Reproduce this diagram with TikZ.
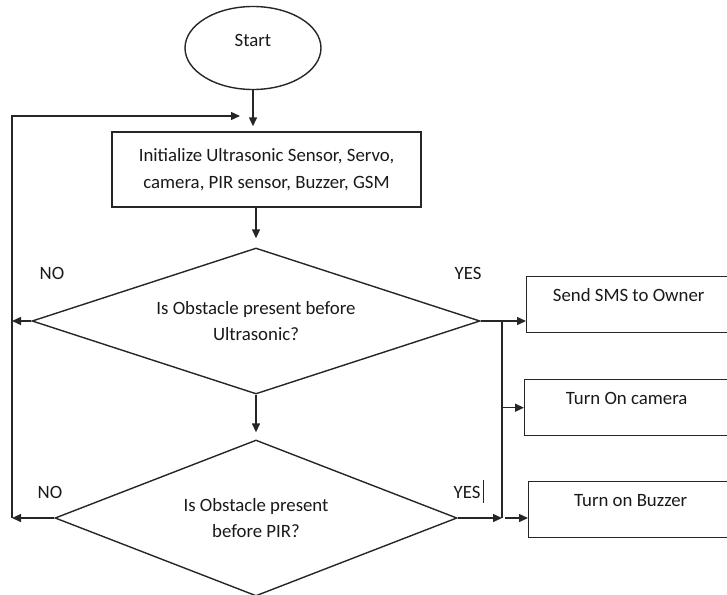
\documentclass[tikz,border=0pt]{standalone}
\usepackage{fontspec}
\setmainfont{Carlito}
\usetikzlibrary{shapes.geometric,arrows.meta}
\begin{document}
\begin{tikzpicture}[x=1pt,y=-1pt,
  line width=1.4pt, draw=black!85,
  every node/.style={font=\fontsize{18.8}{26.5}\selectfont, text=black!90},
  arr/.style={-{Triangle[length=9pt,width=8pt]}},
  box/.style={draw, rectangle, anchor=north west, minimum width=204pt, inner xsep=0pt, inner ysep=0pt, text height=25pt, text depth=31pt},
  dec/.style={draw, diamond, inner sep=0pt, align=center},
  lbl/.style={inner sep=0pt}
]
\useasboundingbox (0,0) rectangle (727,594);

% start
\node[draw, ellipse, minimum width=136pt, minimum height=83pt, inner sep=0pt] (start) at (253,48) {};
\node[lbl] (starttext) at (253,40) {Start};

% init box
\node[draw, rectangle, minimum width=309pt, minimum height=75pt, inner sep=0pt, align=center] (init) at (266.5,169.5)
  {Initialize Ultrasonic Sensor, Servo,\\camera, PIR sensor, Buzzer, GSM};

% decisions
\node[dec, aspect=3, minimum width=448pt, minimum height=146pt] (d1) at (256,321)
  {Is Obstacle present before\\Ultrasonic?};
\node[dec, aspect=2.5, minimum width=402pt, minimum height=156pt] (d2) at (256,518)
  {Is Obstacle present\\before PIR?};

% action boxes
\node[box] (sms) at (526,276) {Send SMS to Owner};
\node[box] (cam) at (524,379) {Turn On camera};
\node[box] (buz) at (528,481) {Turn on Buzzer};

% labels
\node[lbl] (no1) at (52,273) {NO};
\node[lbl] (yes1) at (468,273) {YES};
\node[lbl] (no2) at (50,492) {NO};
\node[lbl] (yes2) at (467,492) {YES};
\draw[line width=0.9pt] ([shift={(2,-12)}]yes2.east) -- ([shift={(2,11)}]yes2.east);

% coordinates
\coordinate (loopTop) at (12,116);
\coordinate (loopEnd) at (240,116);
\coordinate (loopBot) at (12,518);
\coordinate (busTop) at (502,321);
\coordinate (busBot) at (502,518);

% connectors
\draw[arr, shorten >=5pt] (start.south) -- (start.south |- init.north);
\draw[arr] (loopBot) -- (loopTop) -- (loopEnd);
\draw[arr, shorten >=9pt] (init.south -| d1.north) -- (d1.north);
\draw[arr] (d1.west) -- (d1.west -| loopTop);
\draw[arr, shorten >=7pt] (d1.south) -- (d2.north);
\draw[arr] (d2.west) -- (loopBot);
\draw (busTop) -- (busBot);
\draw[arr] (d1.east) -- (d1.east -| sms.west);
\draw[arr] (busTop |- cam.west) -- (cam.west);
\draw[arr] (d2.east) -- (busBot);
\draw[arr] ([xshift=3pt]busBot) -- (busBot -| buz.west);
\end{tikzpicture}
\end{document}
